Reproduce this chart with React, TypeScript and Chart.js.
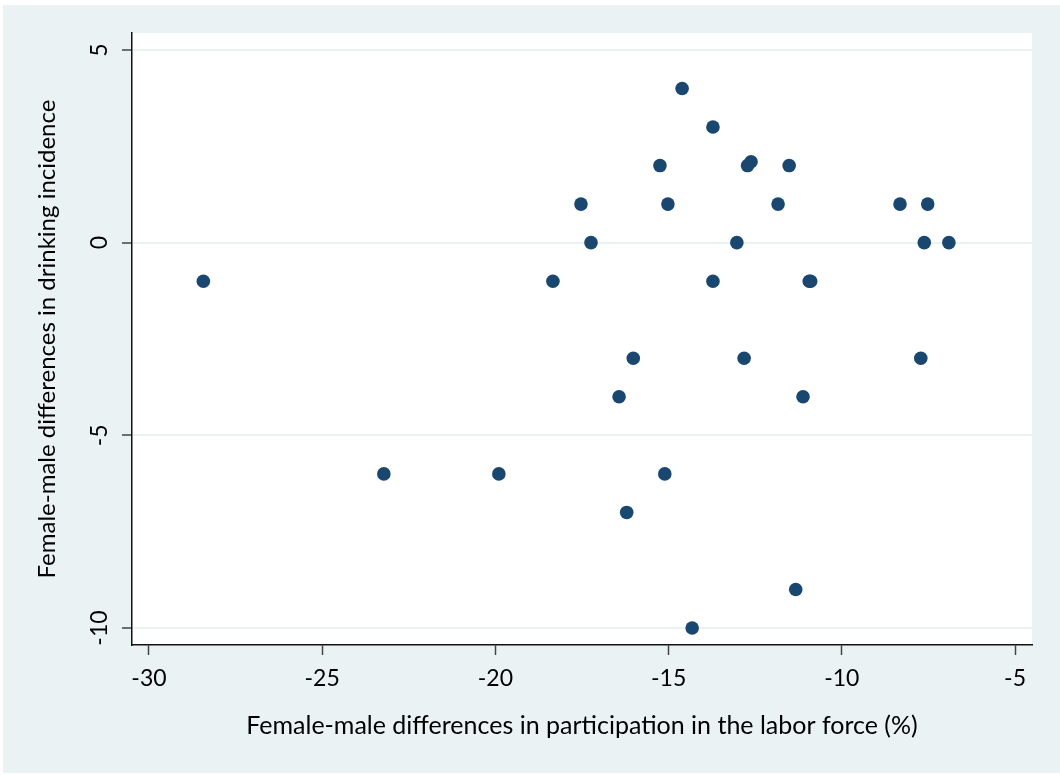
import React, { useEffect, useRef } from "react";
import { Chart, registerables } from "chart.js";

Chart.register(...registerables);

// Female-male differences in participation in the labor force (%)
const laborForceGap: number[] = [
  -28.43, -23.22, -19.9, -18.34, -17.53, -17.24, -16.43, -16.02, -16.21, -15.25,
  -15.02, -15.11, -14.61, -14.32, -13.72, -13.72, -13.03, -12.82, -12.72, -12.62,
  -11.52, -11.84, -11.12, -11.33, -10.94, -10.9, -8.32, -7.52, -7.62, -6.91, -7.72,
];

// Female-male differences in drinking incidence
const drinkingGap: number[] = [
  -1, -6, -6, -1, 1, 0, -4, -3, -7, 2,
  1, -6, 4, -10, 3, -1, 0, -3, 2, 2.1,
  2, 1, -4, -9, -1, -1, 1, 1, 0, 0, -3,
];

const xTickValues: number[] = [-30, -25, -20, -15, -10, -5];
const yTickValues: number[] = [-10, -5, 0, 5];

const xAxisTitle = "Female-male differences in participation in the labor force (%)";
const yAxisTitle = "Female-male differences in drinking incidence";

const BG = "#eaf2f3";
const NAVY = "#1a476f";
const FONT = "Lato, 'Open Sans', sans-serif";

const backgroundPlugin = {
  id: "stataBackground",
  beforeDraw(chart: any) {
    const { ctx, width, height, chartArea } = chart;
    ctx.save();
    ctx.fillStyle = "#ffffff";
    ctx.fillRect(0, 0, width, height);
    ctx.fillStyle = BG;
    ctx.fillRect(3, 5, width - 3, height - 7);
    ctx.fillStyle = "#ffffff";
    ctx.fillRect(
      chartArea.left,
      chartArea.top,
      chartArea.right - chartArea.left,
      chartArea.bottom - chartArea.top
    );
    ctx.restore();
  },
};

export default function App() {
  const canvasRef = useRef<HTMLCanvasElement | null>(null);

  useEffect(() => {
    if (!canvasRef.current) return;
    const points = laborForceGap.map((x, i) => ({ x, y: drinkingGap[i] }));
    const chart = new Chart(canvasRef.current, {
      type: "scatter",
      data: {
        datasets: [
          {
            data: points,
            backgroundColor: NAVY,
            borderColor: NAVY,
            borderWidth: 0,
            pointRadius: 6.8,
            pointHoverRadius: 6.8,
          },
        ],
      },
      plugins: [backgroundPlugin],
      options: {
        responsive: false,
        animation: false,
        events: [],
        layout: { padding: { left: 0, top: 33, right: 28, bottom: 0 } },
        plugins: {
          legend: { display: false },
          tooltip: { enabled: false },
        },
        scales: {
          x: {
            type: "linear",
            position: "bottom",
            min: -30.49,
            max: -4.51,
            afterBuildTicks: (scale: any) => {
              scale.ticks = xTickValues.map((v) => ({ value: v }));
            },
            afterFit: (scale: any) => {
              scale.height = 130;
            },
            grid: {
              display: true,
              drawOnChartArea: false,
              drawTicks: true,
              tickLength: 10,
              tickColor: "#444444",
              tickWidth: 1.5,
            },
            border: { display: true, color: "#111111", width: 1.5 },
            ticks: {
              autoSkip: false,
              maxRotation: 0,
              minRotation: 0,
              padding: 10,
              color: "#000000",
              font: { family: FONT, size: 23 },
              callback: (v: any) => String(v),
            },
            title: {
              display: true,
              text: xAxisTitle,
              color: "#000000",
              font: { family: FONT, size: 25 },
              padding: { top: 0, bottom: 34 },
            },
          },
          y: {
            type: "linear",
            position: "left",
            min: -10.44,
            max: 5.44,
            afterBuildTicks: (scale: any) => {
              scale.ticks = yTickValues.map((v) => ({ value: v }));
            },
            afterFit: (scale: any) => {
              scale.width = 132;
            },
            grid: {
              display: true,
              drawOnChartArea: true,
              color: BG,
              lineWidth: 2,
              drawTicks: true,
              tickLength: 10,
              tickColor: "#444444",
              tickWidth: 1.5,
            },
            border: { display: true, color: "#111111", width: 1.5 },
            ticks: {
              autoSkip: false,
              minRotation: 90,
              maxRotation: 90,
              crossAlign: "center",
              padding: 5,
              color: "#000000",
              font: { family: FONT, size: 23 },
              callback: (v: any) => String(v),
            },
            title: {
              display: true,
              text: yAxisTitle,
              color: "#000000",
              font: { family: FONT, size: 24 },
              padding: { top: 33, bottom: 0 },
            },
          },
        },
      },
    } as any);
    return () => chart.destroy();
  }, []);

  return (
    <div style={{ position: "absolute", left: 0, top: 0, width: 1060, height: 775 }}>
      <canvas ref={canvasRef} width={1060} height={775} style={{ display: "block" }} />
    </div>
  );
}
